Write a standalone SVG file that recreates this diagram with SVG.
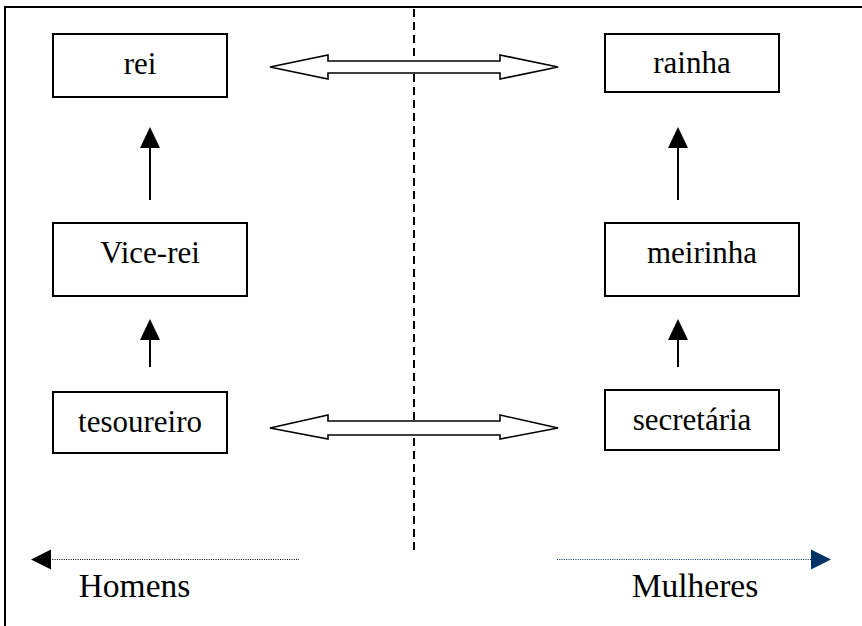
<svg xmlns="http://www.w3.org/2000/svg" width="862" height="626" viewBox="0 0 862 626">
<defs>
<style>
.box{fill:#fff;stroke:#000;stroke-width:2}
.lbl{font-family:"Liberation Serif","Times New Roman",serif;font-size:31px;fill:#000;text-anchor:middle}
.big{font-family:"Liberation Serif","Times New Roman",serif;font-size:33.5px;fill:#000;text-anchor:middle}
.up{stroke:#000;stroke-width:2;fill:none}
.dbl{fill:#fff;stroke:#000;stroke-width:1.6;stroke-linejoin:miter}
</style>
</defs>
<rect width="862" height="626" fill="#fff"/>
<path d="M5,626 V7 H862" fill="none" stroke="#000" stroke-width="2"/>
<g id="connectors">
<line x1="414" y1="9" x2="414" y2="553" stroke="#000" stroke-width="2" stroke-dasharray="8,5"/>
<path class="dbl" d="M270,67 L328,55 L328,61 L500,61 L500,55 L558,67 L500,79 L500,73 L328,73 L328,79 Z"/>
<path class="dbl" d="M270,428 L328,415 L328,421 L500,421 L500,415 L558,428 L500,439 L500,435 L328,435 L328,439 Z"/>
<line class="up" x1="150" y1="147" x2="150" y2="200"/>
<polygon points="150,127 140,148 160,148" fill="#000"/>
<line class="up" x1="150" y1="339" x2="150" y2="367"/>
<polygon points="150,319 140,340 160,340" fill="#000"/>
<line class="up" x1="678" y1="147" x2="678" y2="200"/>
<polygon points="678,127 668,148 688,148" fill="#000"/>
<line class="up" x1="678" y1="339" x2="678" y2="367"/>
<polygon points="678,319 668,340 688,340" fill="#000"/>
<line x1="50" y1="559.5" x2="299" y2="559.5" stroke="#000" stroke-width="1.2" stroke-dasharray="1,1.3"/>
<polygon points="31,559.5 51,549.5 51,569.5" fill="#000"/>
<line x1="557" y1="559.5" x2="812" y2="559.5" stroke="#003366" stroke-width="1.2" stroke-dasharray="1,1.3"/>
<polygon points="831,559.5 811,549.5 811,569.5" fill="#003366"/>
</g>
<g id="rei"><rect class="box" x="53" y="34" width="174" height="63"/><text class="lbl" x="140" y="74">rei</text></g>
<g id="rainha"><rect class="box" x="605" y="34" width="174" height="58"/><text class="lbl" x="692" y="73">rainha</text></g>
<g id="vice-rei"><rect class="box" x="53" y="223" width="194" height="73"/><text class="lbl" x="150" y="263">Vice-rei</text></g>
<g id="meirinha"><rect class="box" x="605" y="223" width="194" height="73"/><text class="lbl" x="702" y="263">meirinha</text></g>
<g id="tesoureiro"><rect class="box" x="53" y="392" width="174" height="61"/><text class="lbl" x="140" y="432">tesoureiro</text></g>
<g id="secretaria"><rect class="box" x="605" y="390" width="174" height="60"/><text class="lbl" x="692" y="430">secretária</text></g>
<g id="homens"><text class="big" x="134.5" y="597">Homens</text></g>
<g id="mulheres"><text class="big" x="695" y="597">Mulheres</text></g>
</svg>
